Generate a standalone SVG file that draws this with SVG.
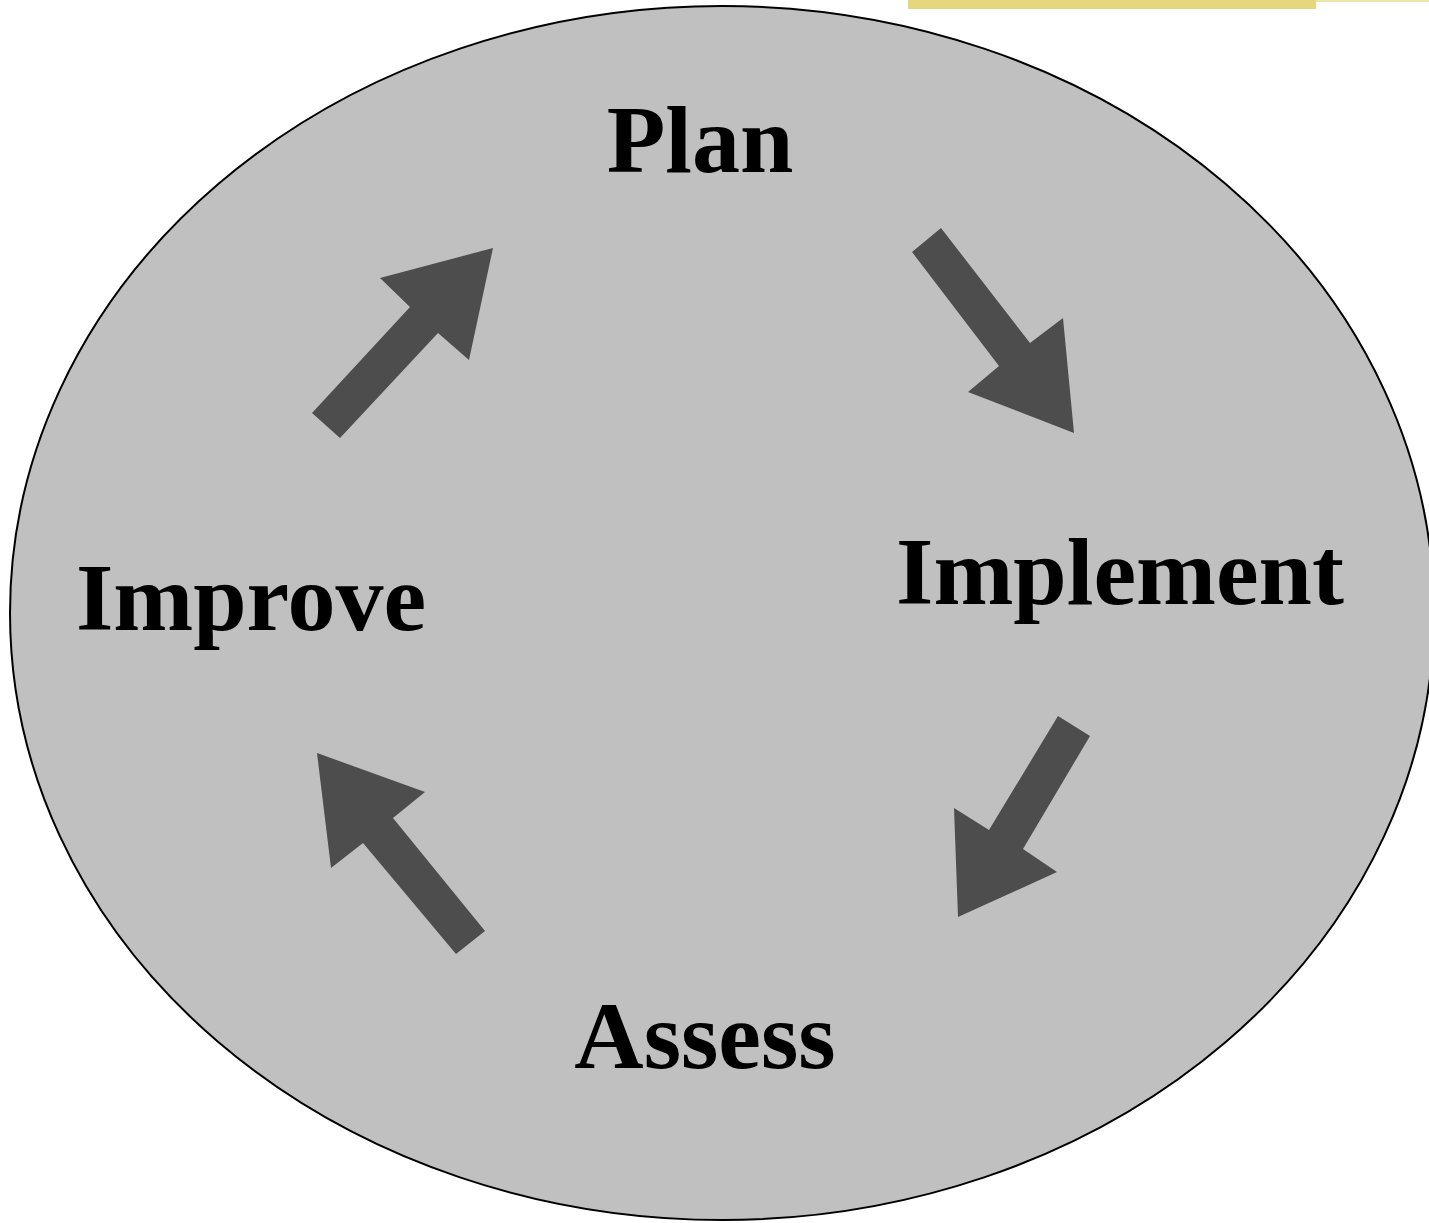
<svg xmlns="http://www.w3.org/2000/svg" width="1429" height="1223" viewBox="0 0 1429 1223">
<style>
.lbl{font-family:"Liberation Serif","Times New Roman",serif;font-weight:bold;font-size:96px;fill:#000;text-anchor:middle}
.arr{fill:#4d4d4d}
</style>
<rect width="1429" height="1223" fill="#fff"/>
<rect x="908" y="0" width="408" height="9" fill="#e6d77e"/>
<rect x="1316" y="0" width="113" height="2" fill="#efe4a8"/>
<g id="background">
<ellipse cx="722" cy="613" rx="712" ry="607" fill="#c0c0c0" stroke="#000" stroke-width="2"/>
</g>
<g id="connectors">
<polygon class="arr" points="312,413 410,307 380,278 493,248 469,360 438,333 340,438"/>
<polygon class="arr" points="912,252 941,228 1030,343 1063,318 1074,433 968,392 999,366"/>
<polygon class="arr" points="1058,716 1090,736 1023,849 1057,872 958,917 954,808 989,830"/>
<polygon class="arr" points="485,931 456,954 363,843 331,868 317,753 425,792 393,818"/>
</g>
<g id="plan"><text class="lbl" x="700" y="172">Plan</text></g>
<g id="implement"><text class="lbl" x="1120" y="604">Implement</text></g>
<g id="assess"><text class="lbl" x="705" y="1068">Assess</text></g>
<g id="improve"><text class="lbl" x="251" y="630">Improve</text></g>
</svg>
